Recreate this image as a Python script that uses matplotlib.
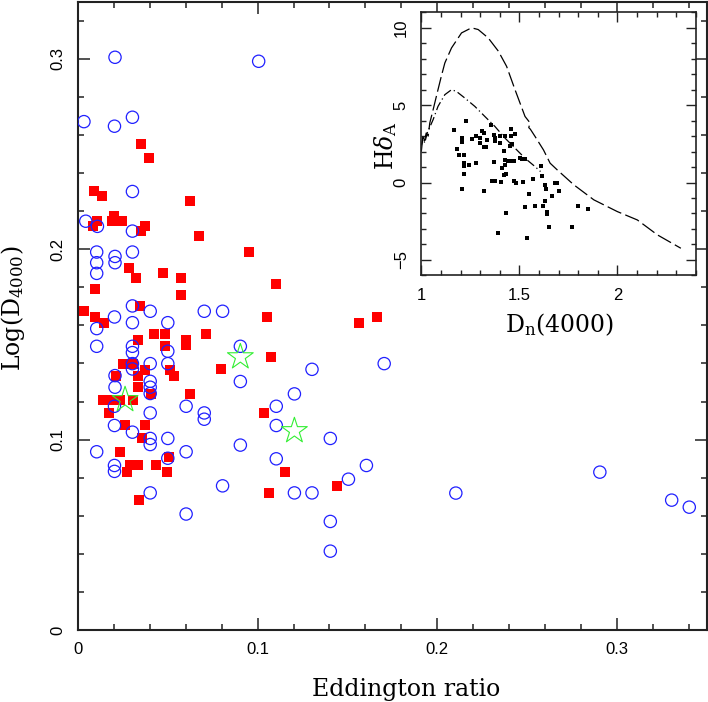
import matplotlib
matplotlib.use("Agg")
import matplotlib.pyplot as plt
from matplotlib.ticker import MultipleLocator
import numpy as np

# main panel: Eddington ratio vs Log(D4000)
blue_x = [0.0206, 0.1006, 0.0033, 0.0303, 0.0203, 0.0303, 0.0043, 0.0108, 0.0303, 0.0104,
          0.0303, 0.0206, 0.0104, 0.0206, 0.0104, 0.0303, 0.0402, 0.0703, 0.0805, 0.0203,
          0.0303, 0.0500, 0.0104, 0.0104, 0.0303, 0.0303, 0.0500, 0.0303, 0.0402, 0.0500,
          0.0303, 0.0904, 0.1303, 0.0206, 0.0206, 0.0402, 0.0402, 0.0402, 0.0904, 0.1205,
          0.0203, 0.0602, 0.1104, 0.0402, 0.0703, 0.0703, 0.1104, 0.0203, 0.0303, 0.0402,
          0.0500, 0.0402, 0.0904, 0.0104, 0.0602, 0.0500, 0.1104, 0.0203, 0.0203, 0.0402,
          0.0805, 0.0602, 0.1205, 0.1303, 0.1705, 0.1405, 0.1606, 0.1506, 0.2104, 0.2906,
          0.1405, 0.1405, 0.3306, 0.3404]
blue_y = [0.3008, 0.2987, 0.2670, 0.2693, 0.2646, 0.2303, 0.2147, 0.2120, 0.2095, 0.1985,
          0.1985, 0.1962, 0.1929, 0.1929, 0.1873, 0.1702, 0.1674, 0.1674, 0.1674, 0.1644,
          0.1614, 0.1614, 0.1583, 0.1490, 0.1490, 0.1457, 0.1464, 0.1399, 0.1399, 0.1399,
          0.1371, 0.1490, 0.1369, 0.1336, 0.1275, 0.1306, 0.1275, 0.1242, 0.1305, 0.1240,
          0.1175, 0.1175, 0.1175, 0.1140, 0.1140, 0.1107, 0.1074, 0.1074, 0.1039, 0.1006,
          0.1006, 0.0974, 0.0971, 0.0936, 0.0936, 0.0902, 0.0899, 0.0864, 0.0833, 0.0720,
          0.0757, 0.0609, 0.0720, 0.0720, 0.1399, 0.1006, 0.0864, 0.0792, 0.0719, 0.0829,
          0.0570, 0.0414, 0.0682, 0.0645]

red_x = [0.0351, 0.0394, 0.0091, 0.0134, 0.0625, 0.0203, 0.0192, 0.0244, 0.0104, 0.0085,
         0.0374, 0.0351, 0.0673, 0.0954, 0.0284, 0.0474, 0.0323, 0.0574, 0.1104, 0.0095,
         0.0574, 0.0346, 0.0033, 0.0095, 0.0147, 0.1054, 0.0335, 0.0424, 0.0485, 0.0485,
         0.0602, 0.0602, 0.0712, 0.0253, 0.0308, 0.0374, 0.0513, 0.0535, 0.0333, 0.0210,
         0.0794, 0.1073, 0.0333, 0.0407, 0.0141, 0.0178, 0.0234, 0.0305, 0.0623, 0.0173,
         0.1034, 0.0262, 0.0374, 0.0355, 0.0234, 0.0504, 0.0290, 0.0336, 0.0275, 0.0433,
         0.0495, 0.1155, 0.1063, 0.0342, 0.1443, 0.1563, 0.1666]
red_y = [0.2553, 0.2480, 0.2305, 0.2279, 0.2253, 0.2174, 0.2147, 0.2147, 0.2147, 0.2121,
         0.2121, 0.2095, 0.2069, 0.1985, 0.1903, 0.1875, 0.1847, 0.1847, 0.1819, 0.1789,
         0.1761, 0.1704, 0.1674, 0.1644, 0.1614, 0.1644, 0.1525, 0.1555, 0.1555, 0.1492,
         0.1525, 0.1499, 0.1555, 0.1399, 0.1399, 0.1368, 0.1368, 0.1336, 0.1336, 0.1336,
         0.1369, 0.1432, 0.1274, 0.1238, 0.1207, 0.1207, 0.1207, 0.1207, 0.1238, 0.1140,
         0.1140, 0.1074, 0.1074, 0.1006, 0.0936, 0.0906, 0.0866, 0.0866, 0.0829, 0.0864,
         0.0829, 0.0831, 0.0720, 0.0684, 0.0756, 0.1614, 0.1644]

star_x = [0.0262, 0.0904, 0.1205]
star_y = [0.1209, 0.1434, 0.1046]

# inset: Dn(4000) vs HdeltaA
dn = [1.229, 1.169, 1.357, 1.459, 1.208, 1.208, 1.261, 1.280, 1.297, 1.309,
      1.321, 1.300, 1.335, 1.369, 1.374, 1.377, 1.400, 1.403, 1.428, 1.459,
      1.480, 1.451, 1.463, 1.420, 1.318, 1.331, 1.181, 1.190, 1.219, 1.219,
      1.241, 1.219, 1.219, 1.210, 1.280, 1.321, 1.369, 1.425, 1.440, 1.454,
      1.471, 1.428, 1.411, 1.420, 1.434, 1.502, 1.514, 1.531, 1.360, 1.377,
      1.408, 1.471, 1.481, 1.519, 1.570, 1.611, 1.618, 1.632, 1.638, 1.683,
      1.690, 1.701, 1.669, 1.632, 1.620, 1.642, 1.642, 1.580, 1.550, 1.531,
      1.430, 1.650, 1.771, 1.800, 1.850, 1.389, 1.539]
hda = [3.95, 3.41, 3.69, 3.48, 2.87, 2.61, 2.81, 2.98, 2.87, 3.30,
       3.20, 2.55, 2.72, 3.09, 2.87, 2.66, 3.02, 2.55, 2.98, 3.02,
       3.13, 2.38, 2.48, 2.01, 2.29, 2.29, 2.18, 1.79, 1.79, 1.25,
       1.14, 1.08, 0.54, -0.43, 1.25, -0.58, 1.32, 1.47, 1.36, 1.42,
       1.42, 1.14, 0.93, 0.50, 0.56, 1.58, 1.51, 1.53, 0.13, 0.11,
       0.06, 0.13, 0.00, 0.06, 0.24, 1.04, 0.39, -0.13, -0.43, -0.04,
       -0.04, -0.58, -0.84, -1.19, -1.54, -1.88, -2.03, -1.54, -0.76, -1.60,
       -1.99, -2.89, -2.85, -1.49, -1.69, -3.26, -3.61]

# model tracks
burst_x = [1.000, 1.008, 1.016, 1.025, 1.035, 1.043, 1.060, 1.085, 1.102, 1.120,
           1.154, 1.205, 1.256, 1.290, 1.341, 1.393, 1.435, 1.478, 1.529, 1.555,
           1.548, 1.556, 1.580, 1.623, 1.657, 1.693, 1.778, 1.880, 2.000, 2.102,
           2.205, 2.324]
burst_y = [2.0, 3.0, 2.7, 3.2, 3.0, 3.84, 4.70, 6.00, 6.87, 7.73,
           8.70, 9.67, 10.0, 9.89, 9.35, 8.49, 7.51, 6.00, 4.27, 3.85,
           3.55, 3.45, 2.98, 2.11, 1.25, 0.82, -0.15, -1.12, -1.88, -2.42,
           -3.39, -4.25]
cont_x = [1.000, 1.010, 1.017, 1.030, 1.060, 1.085, 1.120, 1.154, 1.179, 1.222,
          1.273, 1.324, 1.375, 1.427, 1.478, 1.529, 1.580, 1.608]
cont_y = [2.4, 2.9, 2.55, 3.2, 4.06, 4.92, 5.68, 6.00, 5.89, 5.46,
          4.92, 4.27, 3.63, 2.87, 2.22, 1.57, 1.03, 0.71]

serif = "DejaVu Serif"
plt.rcParams["mathtext.fontset"] = "dejavuserif"
plt.rcParams["font.family"] = "Liberation Sans"

fig = plt.figure(figsize=(7.08, 7.02), dpi=100)
ax = fig.add_axes([0.1102, 0.1026, 0.8877, 0.8950])

ax.scatter(red_x, red_y, marker="s", s=44, color="red", linewidths=0, zorder=2)
ax.scatter(blue_x, blue_y, marker="o", s=78, facecolors="none", edgecolors="#2020ff",
           linewidths=0.9, zorder=3)
ax.scatter(star_x, star_y, marker="*", s=380, facecolors="none", edgecolors="#33ee33",
           linewidths=0.8, zorder=4)

ax.set_xlim(0, 0.35)
ax.set_ylim(0, 0.33)
ax.xaxis.set_minor_locator(MultipleLocator(0.02))
ax.yaxis.set_minor_locator(MultipleLocator(0.02))
ax.set_xticks([0, 0.1, 0.2, 0.3])
ax.set_xticklabels(["0", "0.1", "0.2", "0.3"])
ax.set_yticks([0, 0.1, 0.2, 0.3])
ax.set_yticklabels(["0", "0.1", "0.2", "0.3"], rotation=90, va="center")
ax.tick_params(which="both", direction="in", top=True, right=True, labelsize=12,
               width=1.1, color="#222222")
ax.tick_params(which="major", length=8.5, pad=9)
ax.tick_params(which="minor", length=4.3)
for sp in ax.spines.values():
    sp.set_linewidth(1.5)
    sp.set_color("#222222")

ax.set_xlabel("Eddington ratio", fontsize=17, family=serif, va="center")
ax.xaxis.set_label_coords(0.522, -0.0955)
ax.set_ylabel(r"Log(D$_{\rm 4000}$)", fontsize=17, family=serif, va="center")
ax.yaxis.set_label_coords(-0.103, 0.512)

# inset
ins = fig.add_axes([0.5951, 0.6078, 0.3876, 0.3746])
ins.set_facecolor("white")
ins.plot(burst_x, burst_y, color="black", lw=0.9, dashes=(12, 3.5))
ins.plot(cont_x, cont_y, color="black", lw=0.9, dashes=(7, 2.5, 1, 2.5))
ins.scatter(dn, hda, marker="s", s=10, color="black", linewidths=0, zorder=3)

ins.set_xlim(1, 2.4)
ins.set_ylim(-6, 11)
ins.xaxis.set_minor_locator(MultipleLocator(0.1))
ins.yaxis.set_minor_locator(MultipleLocator(1))
ins.set_xticks([1, 1.5, 2])
ins.set_xticklabels(["1", "1.5", "2"])
ins.set_yticks([-5, 0, 5, 10])
ins.set_yticklabels(["\u22125", "0", "5", "10"], rotation=90, va="center")
ins.tick_params(which="both", direction="in", top=True, right=True, labelsize=12,
                width=1.0, color="#222222")
ins.tick_params(which="major", length=7, pad=9)
ins.tick_params(which="minor", length=3.6)
for sp in ins.spines.values():
    sp.set_linewidth(1.2)
    sp.set_color("#222222")

ins.set_xlabel(r"D$_{\rm n}$(4000)", fontsize=17, family=serif, va="center")
ins.xaxis.set_label_coords(0.505, -0.189)
ins.set_ylabel(r"H$\delta_{\rm A}$", fontsize=17, family=serif, va="center")
ins.yaxis.set_label_coords(-0.132, 0.495)

fig.savefig("out.png", dpi=100)
